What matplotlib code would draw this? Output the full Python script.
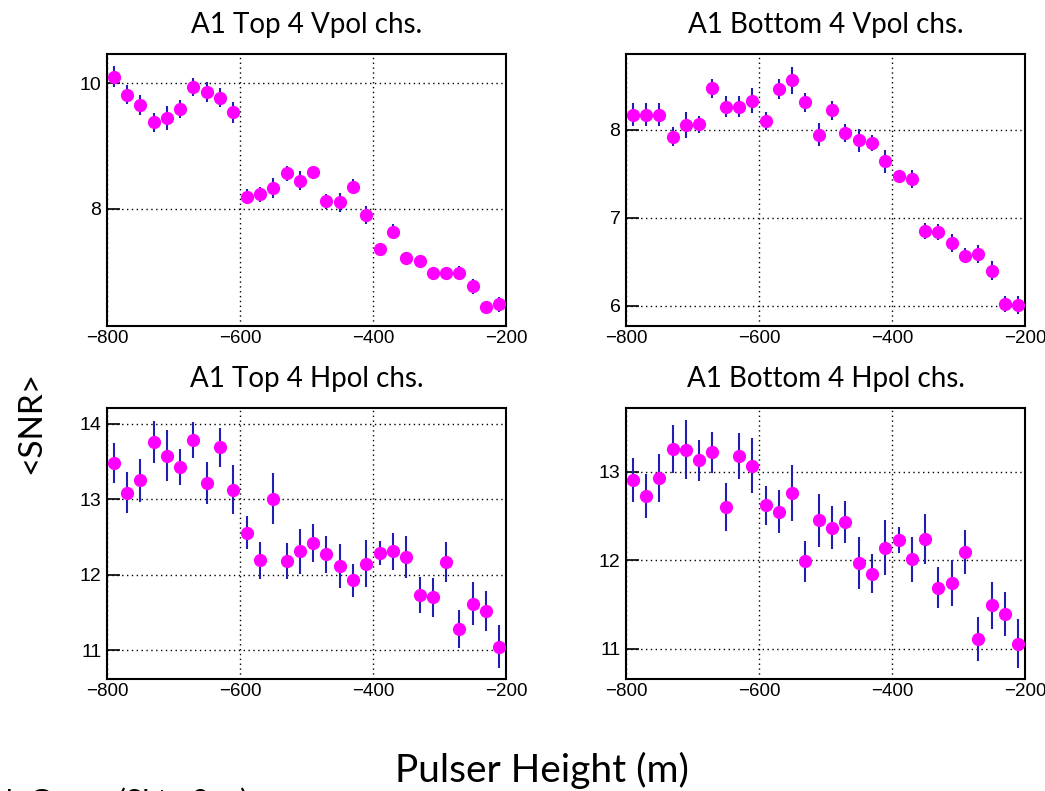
import numpy as np
import matplotlib
matplotlib.use("Agg")
import matplotlib.pyplot as plt

# Pulser heights (m), 20 m bins
heights = np.arange(-790, -200, 20)

# <SNR> per panel
top_vpol = [10.11, 9.82, 9.65, 9.38, 9.45, 9.59, 9.94, 9.86, 9.77, 9.54,
            8.19, 8.23, 8.33, 8.57, 8.45, 8.58, 8.12, 8.10, 8.35, 7.90,
            7.36, 7.63, 7.21, 7.17, 6.98, 6.98, 6.98, 6.76, 6.44, 6.48]
top_vpol_err = [0.16, 0.15, 0.16, 0.15, 0.19, 0.14, 0.14, 0.16, 0.15, 0.17,
                0.12, 0.12, 0.16, 0.12, 0.15, 0.11, 0.12, 0.15, 0.12, 0.14,
                0.08, 0.12, 0.10, 0.10, 0.08, 0.08, 0.10, 0.12, 0.08, 0.12]

bot_vpol = [8.17, 8.17, 8.17, 7.92, 8.05, 8.06, 8.47, 8.26, 8.26, 8.33,
            8.10, 8.46, 8.56, 8.31, 7.94, 8.22, 7.96, 7.88, 7.85, 7.64,
            7.47, 7.44, 6.85, 6.84, 6.71, 6.57, 6.59, 6.40, 6.02, 6.01]
bot_vpol_err = [0.13, 0.13, 0.13, 0.11, 0.15, 0.10, 0.11, 0.12, 0.12, 0.14,
                0.10, 0.11, 0.15, 0.11, 0.13, 0.11, 0.10, 0.13, 0.09, 0.13,
                0.05, 0.10, 0.09, 0.09, 0.10, 0.09, 0.10, 0.11, 0.09, 0.10]

top_hpol = [13.48, 13.09, 13.25, 13.76, 13.58, 13.43, 13.79, 13.22, 13.69, 13.13,
            12.56, 12.19, 13.01, 12.18, 12.31, 12.42, 12.27, 12.12, 11.93, 12.15,
            12.29, 12.31, 12.24, 11.73, 11.70, 12.17, 11.28, 11.62, 11.52, 11.05]
top_hpol_err = [0.26, 0.27, 0.28, 0.28, 0.34, 0.24, 0.24, 0.28, 0.26, 0.32,
                0.22, 0.25, 0.34, 0.24, 0.30, 0.25, 0.24, 0.29, 0.22, 0.31,
                0.16, 0.25, 0.28, 0.24, 0.26, 0.26, 0.25, 0.28, 0.26, 0.28]

bot_hpol = [12.91, 12.73, 12.93, 13.26, 13.25, 13.13, 13.22, 12.60, 13.18, 13.07,
            12.62, 12.55, 12.76, 11.99, 12.45, 12.37, 12.43, 11.97, 11.85, 12.14,
            12.23, 12.01, 12.24, 11.69, 11.74, 12.09, 11.11, 11.49, 11.39, 11.06]
bot_hpol_err = [0.25, 0.25, 0.27, 0.27, 0.33, 0.23, 0.23, 0.27, 0.26, 0.31,
                0.22, 0.24, 0.32, 0.23, 0.30, 0.24, 0.24, 0.29, 0.22, 0.31,
                0.15, 0.25, 0.28, 0.23, 0.26, 0.25, 0.25, 0.27, 0.25, 0.28]

titles = ["A1 Top 4 Vpol chs.", "A1 Bottom 4 Vpol chs.",
          "A1 Top 4 Hpol chs.", "A1 Bottom 4 Hpol chs."]
series = [(top_vpol, top_vpol_err), (bot_vpol, bot_vpol_err),
          (top_hpol, top_hpol_err), (bot_hpol, bot_hpol_err)]
ylims = [(6.13, 10.47), (5.77, 8.86), (10.62, 14.21), (10.66, 13.72)]
yticks = [[8, 10], [6, 7, 8], [11, 12, 13, 14], [11, 12, 13]]
xticks = [-800, -600, -400, -200]

# panel boxes in figure fractions [left, bottom, width, height]
boxes = [[0.1024, 0.5879, 0.3818, 0.3439], [0.5990, 0.5879, 0.3818, 0.3439],
         [0.1024, 0.1416, 0.3818, 0.3426], [0.5990, 0.1416, 0.3818, 0.3426]]

title_font = ["Lato", "DejaVu Sans"]
tick_font = ["Liberation Sans", "DejaVu Sans"]

fig = plt.figure(figsize=(10.45, 7.91), dpi=100)

for box, title, (vals, errs), ylim, yt in zip(boxes, titles, series, ylims, yticks):
    ax = fig.add_axes(box)
    ax.errorbar(heights, vals, yerr=errs, fmt="o", color="#ff00ff",
                markersize=8.5, ecolor="#2020b0", elinewidth=1.5,
                capsize=0, zorder=3)
    ax.set_xlim(-800, -200)
    ax.set_ylim(*ylim)
    ax.set_xticks(xticks)
    ax.set_yticks(yt)
    ax.set_xticklabels(["\u2212800", "\u2212600", "\u2212400", "\u2212200"],
                       family=tick_font, fontsize=13.5)
    ax.set_yticklabels([str(v) for v in yt], family=tick_font, fontsize=14)
    ax.grid(True, color="black", linestyle=(0, (1, 2.5)), linewidth=1.0)
    ax.tick_params(axis="y", direction="in", length=9, width=1.2, pad=4)
    ax.tick_params(axis="x", direction="in", length=0, pad=3)
    for sp in ax.spines.values():
        sp.set_linewidth(1.5)
    ax.set_title(title, family=title_font, fontsize=20, pad=15)

fig.text(0.030, 0.466, "<SNR>", rotation=90, ha="center", va="center",
         family=title_font, fontsize=24)
fig.text(0.519, 0.026, "Pulser Height (m)", ha="center", va="center",
         family=title_font, fontsize=28)
# partially visible caption cut off at the bottom edge
fig.text(0.006, 0.004, "h Group (SI to 2 m)", ha="left", va="top",
         family=title_font, fontsize=21)

fig.savefig("out.png", dpi=100)
